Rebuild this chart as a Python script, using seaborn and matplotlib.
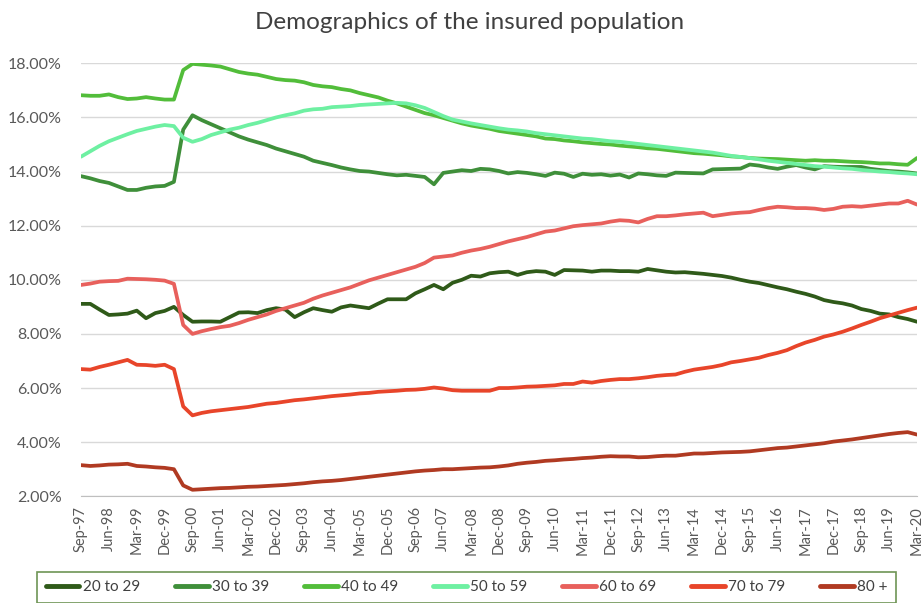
import pandas as pd
import matplotlib
matplotlib.use("Agg")
import matplotlib.pyplot as plt
from matplotlib.ticker import PercentFormatter
import seaborn as sns

# -------------------------
# Data (share of insured population, %)
# -------------------------
quarters = pd.date_range("1997-09-30", periods=91, freq="QE").strftime("%b-%y").tolist()

age_20_29 = [9.11, 9.11, 8.90, 8.70, 8.72, 8.75, 8.86, 8.58, 8.77, 8.85,
             9.00, 8.70, 8.45, 8.46, 8.46, 8.45, 8.62, 8.79, 8.80, 8.77,
             8.88, 8.95, 8.90, 8.62, 8.80, 8.95, 8.88, 8.82, 8.98, 9.05,
             9.00, 8.95, 9.12, 9.28, 9.28, 9.28, 9.50, 9.65, 9.81, 9.65,
             9.89, 10.00, 10.15, 10.12, 10.24, 10.28, 10.30, 10.18, 10.28, 10.32,
             10.30, 10.18, 10.36, 10.35, 10.34, 10.30, 10.34, 10.34, 10.32, 10.32,
             10.30, 10.40, 10.35, 10.30, 10.27, 10.28, 10.25, 10.22, 10.18, 10.14,
             10.08, 10.00, 9.93, 9.88, 9.80, 9.72, 9.65, 9.56, 9.48, 9.38,
             9.25, 9.18, 9.13, 9.05, 8.92, 8.85, 8.75, 8.72, 8.62, 8.55,
             8.45]

age_30_39 = [13.83, 13.75, 13.65, 13.58, 13.45, 13.32, 13.32, 13.40, 13.45, 13.47,
             13.62, 15.55, 16.08, 15.90, 15.75, 15.60, 15.45, 15.30, 15.18, 15.08,
             14.98, 14.85, 14.75, 14.65, 14.55, 14.40, 14.32, 14.24, 14.15, 14.08,
             14.02, 14.00, 13.95, 13.90, 13.86, 13.88, 13.84, 13.80, 13.53, 13.95,
             14.00, 14.05, 14.02, 14.10, 14.08, 14.02, 13.93, 13.98, 13.95, 13.90,
             13.84, 13.96, 13.92, 13.80, 13.92, 13.88, 13.90, 13.85, 13.89, 13.78,
             13.93, 13.90, 13.86, 13.84, 13.96, 13.95, 13.94, 13.93, 14.08, 14.09,
             14.10, 14.11, 14.26, 14.22, 14.15, 14.10, 14.18, 14.24, 14.15, 14.08,
             14.20, 14.18, 14.17, 14.17, 14.17, 14.10, 14.06, 14.02, 14.00, 13.97,
             13.93]

age_40_49 = [16.82, 16.80, 16.80, 16.85, 16.75, 16.68, 16.70, 16.75, 16.70, 16.66,
             16.66, 17.75, 17.98, 17.95, 17.92, 17.88, 17.78, 17.68, 17.62, 17.58,
             17.50, 17.42, 17.38, 17.36, 17.30, 17.20, 17.15, 17.12, 17.05, 17.00,
             16.90, 16.82, 16.74, 16.62, 16.52, 16.40, 16.28, 16.16, 16.08, 15.98,
             15.88, 15.78, 15.70, 15.64, 15.58, 15.50, 15.45, 15.40, 15.35, 15.30,
             15.22, 15.20, 15.15, 15.12, 15.08, 15.05, 15.02, 15.00, 14.96, 14.93,
             14.90, 14.86, 14.84, 14.80, 14.76, 14.72, 14.68, 14.66, 14.63, 14.60,
             14.56, 14.54, 14.50, 14.48, 14.47, 14.46, 14.44, 14.42, 14.40, 14.42,
             14.40, 14.40, 14.38, 14.36, 14.35, 14.33, 14.30, 14.30, 14.27, 14.25,
             14.50]

age_50_59 = [14.55, 14.75, 14.95, 15.12, 15.25, 15.38, 15.50, 15.58, 15.66, 15.72,
             15.68, 15.25, 15.10, 15.20, 15.35, 15.45, 15.55, 15.62, 15.72, 15.80,
             15.90, 16.00, 16.08, 16.15, 16.25, 16.30, 16.32, 16.38, 16.40, 16.42,
             16.46, 16.48, 16.50, 16.52, 16.54, 16.52, 16.45, 16.35, 16.20, 16.05,
             15.92, 15.85, 15.78, 15.72, 15.66, 15.60, 15.55, 15.52, 15.48, 15.42,
             15.38, 15.34, 15.30, 15.26, 15.22, 15.20, 15.16, 15.12, 15.10, 15.06,
             15.02, 14.98, 14.94, 14.90, 14.86, 14.82, 14.78, 14.74, 14.70, 14.64,
             14.58, 14.54, 14.50, 14.45, 14.40, 14.36, 14.32, 14.28, 14.24, 14.20,
             14.18, 14.15, 14.12, 14.10, 14.06, 14.03, 14.00, 13.98, 13.95, 13.93,
             13.90]

age_60_69 = [9.81, 9.86, 9.93, 9.95, 9.96, 10.04, 10.03, 10.02, 10.00, 9.97,
             9.85, 8.33, 8.00, 8.10, 8.18, 8.25, 8.30, 8.40, 8.52, 8.62,
             8.72, 8.85, 8.95, 9.05, 9.15, 9.30, 9.42, 9.52, 9.62, 9.72,
             9.85, 9.98, 10.08, 10.18, 10.28, 10.38, 10.48, 10.62, 10.82, 10.86,
             10.90, 11.00, 11.08, 11.14, 11.22, 11.32, 11.42, 11.50, 11.58, 11.68,
             11.78, 11.82, 11.90, 11.98, 12.02, 12.05, 12.08, 12.15, 12.20, 12.18,
             12.12, 12.25, 12.35, 12.35, 12.38, 12.42, 12.45, 12.48, 12.35, 12.40,
             12.45, 12.48, 12.50, 12.58, 12.65, 12.70, 12.68, 12.65, 12.65, 12.63,
             12.58, 12.62, 12.70, 12.72, 12.70, 12.74, 12.78, 12.82, 12.82, 12.92,
             12.78]

age_70_79 = [6.70, 6.68, 6.78, 6.86, 6.95, 7.04, 6.86, 6.85, 6.82, 6.86,
             6.70, 5.32, 4.99, 5.08, 5.14, 5.18, 5.22, 5.26, 5.30, 5.36,
             5.42, 5.45, 5.50, 5.55, 5.58, 5.62, 5.66, 5.70, 5.73, 5.76,
             5.80, 5.82, 5.86, 5.88, 5.90, 5.93, 5.94, 5.97, 6.02, 5.98,
             5.92, 5.90, 5.90, 5.90, 5.90, 6.00, 6.00, 6.02, 6.05, 6.06,
             6.08, 6.10, 6.15, 6.15, 6.24, 6.20, 6.26, 6.30, 6.33, 6.33,
             6.36, 6.40, 6.45, 6.48, 6.50, 6.60, 6.68, 6.73, 6.78, 6.85,
             6.95, 7.00, 7.06, 7.12, 7.22, 7.30, 7.40, 7.55, 7.68, 7.78,
             7.90, 7.98, 8.08, 8.20, 8.33, 8.45, 8.58, 8.68, 8.78, 8.88,
             8.97]

age_80_plus = [3.15, 3.12, 3.14, 3.17, 3.18, 3.20, 3.12, 3.10, 3.07, 3.05,
               3.00, 2.40, 2.24, 2.26, 2.28, 2.30, 2.31, 2.33, 2.35, 2.36,
               2.38, 2.40, 2.42, 2.45, 2.48, 2.52, 2.55, 2.57, 2.60, 2.64,
               2.68, 2.72, 2.76, 2.80, 2.84, 2.88, 2.92, 2.95, 2.97, 3.00,
               3.00, 3.02, 3.04, 3.06, 3.07, 3.10, 3.14, 3.20, 3.24, 3.27,
               3.31, 3.33, 3.36, 3.38, 3.41, 3.43, 3.46, 3.48, 3.47, 3.47,
               3.44, 3.45, 3.48, 3.50, 3.50, 3.54, 3.58, 3.58, 3.60, 3.62,
               3.63, 3.64, 3.66, 3.70, 3.74, 3.78, 3.80, 3.84, 3.88, 3.92,
               3.96, 4.02, 4.06, 4.10, 4.15, 4.20, 4.25, 4.30, 4.34, 4.37,
               4.28]

groups = ["20 to 29", "30 to 39", "40 to 49", "50 to 59", "60 to 69", "70 to 79", "80 +"]
colors = ["#2f5a19", "#3f8f3a", "#52bd3a", "#6ef0a2", "#e8605c", "#e8452a", "#b03a22"]

# -------------------------
# Long format table
# -------------------------
series = [age_20_29, age_30_39, age_40_49, age_50_59, age_60_69, age_70_79, age_80_plus]
frames = []
for name, vals in zip(groups, series):
    frames.append(pd.DataFrame({"idx": range(len(quarters)), "share": vals, "group": name}))
df = pd.concat(frames, ignore_index=True)

# -------------------------
# Plot
# -------------------------
sns.set_style("white")
plt.rcParams["font.family"] = ["Lato", "DejaVu Sans"]

fig = plt.figure(figsize=(9.24, 6.03), dpi=100)
ax = fig.add_axes([0.0877, 0.177, 0.9047, 0.718])

sns.lineplot(data=df, x="idx", y="share", hue="group", palette=colors,
             linewidth=2.7, ax=ax, legend=False)

ax.set_ylim(2, 18)
ax.set_xlim(0, len(quarters) - 1)
ax.set_yticks(range(2, 19, 2))
ax.yaxis.set_major_formatter(PercentFormatter(decimals=2))
ax.set_xticks(range(0, len(quarters), 3))
ax.set_xticklabels(quarters[::3], rotation=90)
ax.tick_params(axis="y", labelsize=11.5, colors="#595959", length=0, pad=14)
ax.tick_params(axis="x", labelsize=10.5, colors="#595959", length=4, width=0.8,
               direction="out", pad=3)
ax.xaxis.set_tick_params(color="#bfbfbf")
ax.grid(axis="y", color="#d9d9d9", linewidth=1)
ax.set_axisbelow(True)
for side in ["top", "right", "left"]:
    ax.spines[side].set_visible(False)
ax.spines["bottom"].set_color("#bfbfbf")
ax.set_xlabel("")
ax.set_ylabel("")

fig.suptitle("Demographics of the insured population", x=0.508, y=0.98,
             fontsize=17.5, color="#404040")

handles = [plt.Line2D([0], [0], color=c, linewidth=3.5) for c in colors]
leg = fig.legend(handles, groups, loc="lower center", ncol=7,
                 bbox_to_anchor=(0.505, -0.012), frameon=True, fancybox=False,
                 fontsize=11, handlelength=2.2, handletextpad=0.2,
                 columnspacing=2.3, borderpad=0.55)
leg.get_frame().set_edgecolor("#4a7a2a")
leg.get_frame().set_linewidth(1.2)
for t in leg.get_texts():
    t.set_color("#404040")

fig.savefig("out.png", dpi=100)
